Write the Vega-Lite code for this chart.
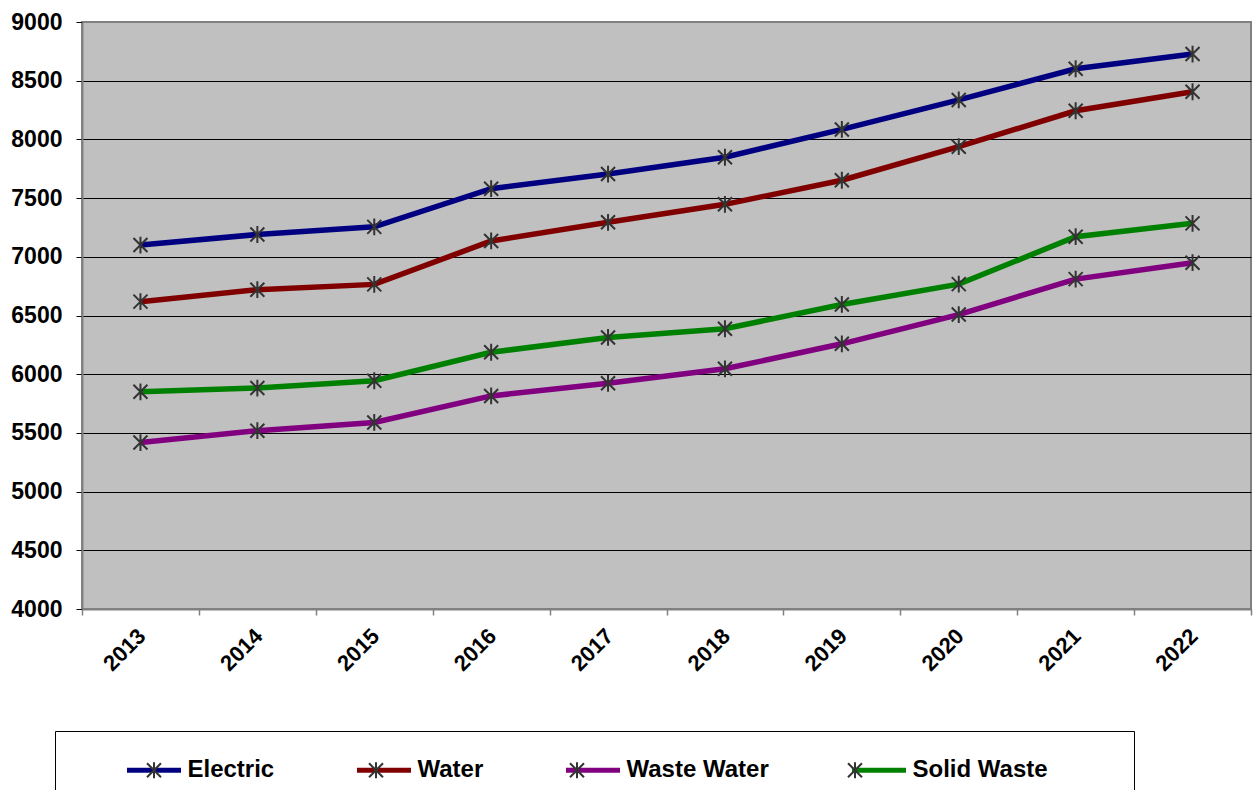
{
  "$schema": "https://vega.github.io/schema/vega-lite/v6.json",
  "width": 1169,
  "height": 587,
  "autosize": "none",
  "padding": {"left": 82, "top": 22, "right": 3, "bottom": 181},
  "background": "white",
  "config": {
    "font": "Liberation Sans",
    "view": {"fill": "#C0C0C0", "stroke": "#808080", "strokeWidth": 2}
  },
  "data": {
    "values": [
      {"year": "2013", "series": "Electric", "value": 7100},
      {"year": "2014", "series": "Electric", "value": 7190},
      {"year": "2015", "series": "Electric", "value": 7255},
      {"year": "2016", "series": "Electric", "value": 7580},
      {"year": "2017", "series": "Electric", "value": 7705},
      {"year": "2018", "series": "Electric", "value": 7848},
      {"year": "2019", "series": "Electric", "value": 8085},
      {"year": "2020", "series": "Electric", "value": 8336},
      {"year": "2021", "series": "Electric", "value": 8602},
      {"year": "2022", "series": "Electric", "value": 8727},
      {"year": "2013", "series": "Water", "value": 6618},
      {"year": "2014", "series": "Water", "value": 6720},
      {"year": "2015", "series": "Water", "value": 6765},
      {"year": "2016", "series": "Water", "value": 7135},
      {"year": "2017", "series": "Water", "value": 7294},
      {"year": "2018", "series": "Water", "value": 7447},
      {"year": "2019", "series": "Water", "value": 7652},
      {"year": "2020", "series": "Water", "value": 7938},
      {"year": "2021", "series": "Water", "value": 8244},
      {"year": "2022", "series": "Water", "value": 8406},
      {"year": "2013", "series": "Waste Water", "value": 5418},
      {"year": "2014", "series": "Waste Water", "value": 5519},
      {"year": "2015", "series": "Waste Water", "value": 5589},
      {"year": "2016", "series": "Waste Water", "value": 5815},
      {"year": "2017", "series": "Waste Water", "value": 5923},
      {"year": "2018", "series": "Waste Water", "value": 6046},
      {"year": "2019", "series": "Waste Water", "value": 6259},
      {"year": "2020", "series": "Waste Water", "value": 6508},
      {"year": "2021", "series": "Waste Water", "value": 6810},
      {"year": "2022", "series": "Waste Water", "value": 6950},
      {"year": "2013", "series": "Solid Waste", "value": 5850},
      {"year": "2014", "series": "Solid Waste", "value": 5882},
      {"year": "2015", "series": "Solid Waste", "value": 5944},
      {"year": "2016", "series": "Solid Waste", "value": 6187},
      {"year": "2017", "series": "Solid Waste", "value": 6313},
      {"year": "2018", "series": "Solid Waste", "value": 6387},
      {"year": "2019", "series": "Solid Waste", "value": 6594},
      {"year": "2020", "series": "Solid Waste", "value": 6767},
      {"year": "2021", "series": "Solid Waste", "value": 7171},
      {"year": "2022", "series": "Solid Waste", "value": 7285}
    ]
  },
  "encoding": {
    "x": {
      "field": "year",
      "type": "ordinal",
      "scale": {"type": "band", "paddingInner": 0, "paddingOuter": 0},
      "axis": {
        "title": null,
        "labelAngle": -45,
        "labelFont": "Liberation Sans",
        "labelFontSize": 22,
        "labelFontWeight": "bold",
        "labelColor": "black",
        "labelPadding": 10,
        "labelOffset": -6,
        "tickBand": "extent",
        "tickSize": 6,
        "tickColor": "#808080",
        "tickWidth": 1.5,
        "domainColor": "#808080",
        "domainWidth": 2,
        "grid": false
      }
    },
    "y": {
      "field": "value",
      "type": "quantitative",
      "scale": {"domain": [4000, 9000], "nice": false, "zero": false},
      "axis": {
        "title": null,
        "values": [4000, 4500, 5000, 5500, 6000, 6500, 7000, 7500, 8000, 8500, 9000],
        "format": "d",
        "labelFont": "Liberation Sans",
        "labelFontSize": 23,
        "labelFontWeight": "bold",
        "labelColor": "black",
        "labelPadding": 14,
        "tickSize": 6,
        "tickColor": "black",
        "domainColor": "#808080",
        "domainWidth": 2,
        "grid": true,
        "gridColor": {"condition": {"test": "datum.value === 9000", "value": "#808080"}, "value": "black"},
        "gridWidth": 1,
        "gridOpacity": 1
      }
    }
  },
  "layer": [
    {
      "mark": {"type": "line", "strokeWidth": 5.5},
      "encoding": {
        "color": {
          "field": "series",
          "type": "nominal",
          "scale": {
            "domain": ["Electric", "Water", "Waste Water", "Solid Waste"],
            "range": ["#000080", "#800000", "#800080", "#008000"]
          },
          "legend": {
            "orient": "none",
            "legendX": -27,
            "legendY": 709,
            "direction": "horizontal",
            "columns": 4,
            "title": " ",
            "titleOrient": "left",
            "titleFontSize": 1,
            "titlePadding": 60,
            "padding": 9.5,
            "strokeColor": null,
            "symbolType": "stroke",
            "symbolSize": 2916,
            "symbolStrokeWidth": 5,
            "labelFont": "Liberation Sans",
            "labelFontSize": 24,
            "labelFontWeight": "bold",
            "labelColor": "black",
            "labelOffset": 4,
            "labelLimit": 400,
            "columnPadding": 72
          }
        }
      }
    },
    {
      "mark": {
        "type": "point",
        "shape": "M-1,-1L1,1M-1,1L1,-1M0,-1.2V1.2",
        "filled": false,
        "size": 196,
        "strokeWidth": 2,
        "opacity": 1
      },
      "encoding": {
        "color": {
          "field": "series",
          "type": "nominal",
          "scale": {
            "domain": ["Electric", "Water", "Waste Water", "Solid Waste"],
            "range": ["#333333", "#333333", "#333333", "#333333"]
          },
          "legend": {
            "orient": "none",
            "legendX": -27,
            "legendY": 709,
            "direction": "horizontal",
            "columns": 4,
            "title": " ",
            "titleOrient": "left",
            "titleFontSize": 1,
            "titlePadding": 60,
            "padding": 9.5,
            "strokeColor": "black",
            "symbolType": "M-0.245,-0.245L0.245,0.245M-0.245,0.245L0.245,-0.245M0,-0.28V0.28",
            "symbolSize": 3249,
            "symbolStrokeWidth": 2,
            "symbolFillColor": "transparent",
            "labelFont": "Liberation Sans",
            "labelFontSize": 24,
            "labelFontWeight": "bold",
            "labelOpacity": 0,
            "labelOffset": 4,
            "labelLimit": 400,
            "columnPadding": 72,
            "labelExpr": "datum.label == 'Solid Waste' ? 'Solid Waste0000000.' : datum.label"
          }
        }
      }
    }
  ],
  "resolve": {"scale": {"color": "independent"}}
}
